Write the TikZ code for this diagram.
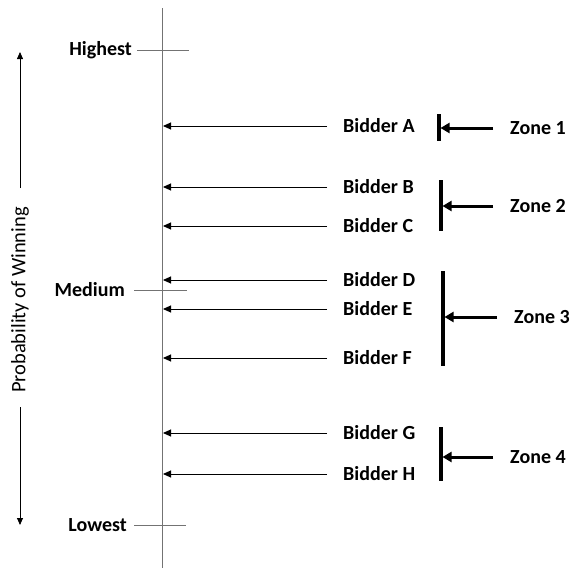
\documentclass[tikz,border=0pt]{standalone}
\usepackage{fontspec}
\setmainfont{Carlito}
\usetikzlibrary{arrows.meta}
\begin{document}
\begin{tikzpicture}[x=1pt,y=-1pt,
  lbl/.style={font=\fontsize{20}{24}\selectfont\bfseries, inner sep=0pt},
  axisline/.style={draw=black!55, line width=0.8pt},
  tick/.style={draw=black!55, line width=0.7pt},
  bidarrow/.style={-{Triangle[length=8pt,width=7pt]}, line width=0.9pt, shorten <=16pt},
  zonebar/.style={line width=3.2pt},
  zonearrow/.style={-{Triangle[length=9pt,width=10pt]}, line width=3pt, shorten <=17pt},
  sidearrow/.style={-{Triangle[length=7pt,width=6pt]}, line width=0.8pt}]
\useasboundingbox (0,0) rectangle (571,570);

% probability axis
\coordinate (top) at (162,8);
\coordinate (bot) at (162,568);
\draw[axisline] (top) -- (bot);

% level marks
\node[lbl, anchor=east] (hi) at (132,50) {Highest};
\node[lbl, anchor=east] (med) at (125,290) {Medium};
\node[lbl, anchor=east] (lo) at (127,525) {Lowest};
\coordinate (hiE) at (189,50);
\coordinate (medE) at (187,290);
\coordinate (loE) at (186,525);
\draw[tick, shorten <=5pt] (hi.east) -- (hiE);
\draw[tick, shorten <=9pt] (med.east) -- (medE);
\draw[tick, shorten <=7pt] (lo.east) -- (loE);

% side caption with direction arrows
\node[rotate=90, font=\fontsize{20.5}{24}\selectfont, inner sep=0pt] (cap) at (20,300) {Probability of Winning};
\coordinate (upS) at (20,188);
\coordinate (upE) at (20,52);
\coordinate (dnS) at (20,407);
\coordinate (dnE) at (20,525);
\draw[sidearrow] (upS) -- (upE);
\draw[sidearrow] (dnS) -- (dnE);

% bidders
\foreach \n/\y in {A/126,B/187,C/226,D/280,E/309,F/358,G/433,H/474}{
  \node[lbl, anchor=west] (b\n) at (343,\y) {Bidder \n};
  \coordinate (ax\n) at (163,\y);
  \draw[bidarrow] (b\n.west) -- (ax\n);
}

% zones
\foreach \z/\x/\ya/\yb/\ym/\tx in {1/439/114/141/128/510,2/441/180/231/206/510,3/443/271/366/317/514,4/441/427/481/457/510}{
  \coordinate (zt\z) at (\x,\ya);
  \coordinate (zb\z) at (\x,\yb);
  \coordinate (zm\z) at (\x+1.5,\ym);
  \draw[zonebar] (zt\z) -- (zb\z);
  \node[lbl, anchor=west] (z\z) at (\tx,\ym) {Zone \z};
  \draw[zonearrow] (z\z.west) -- (zm\z);
}
\end{tikzpicture}
\end{document}
